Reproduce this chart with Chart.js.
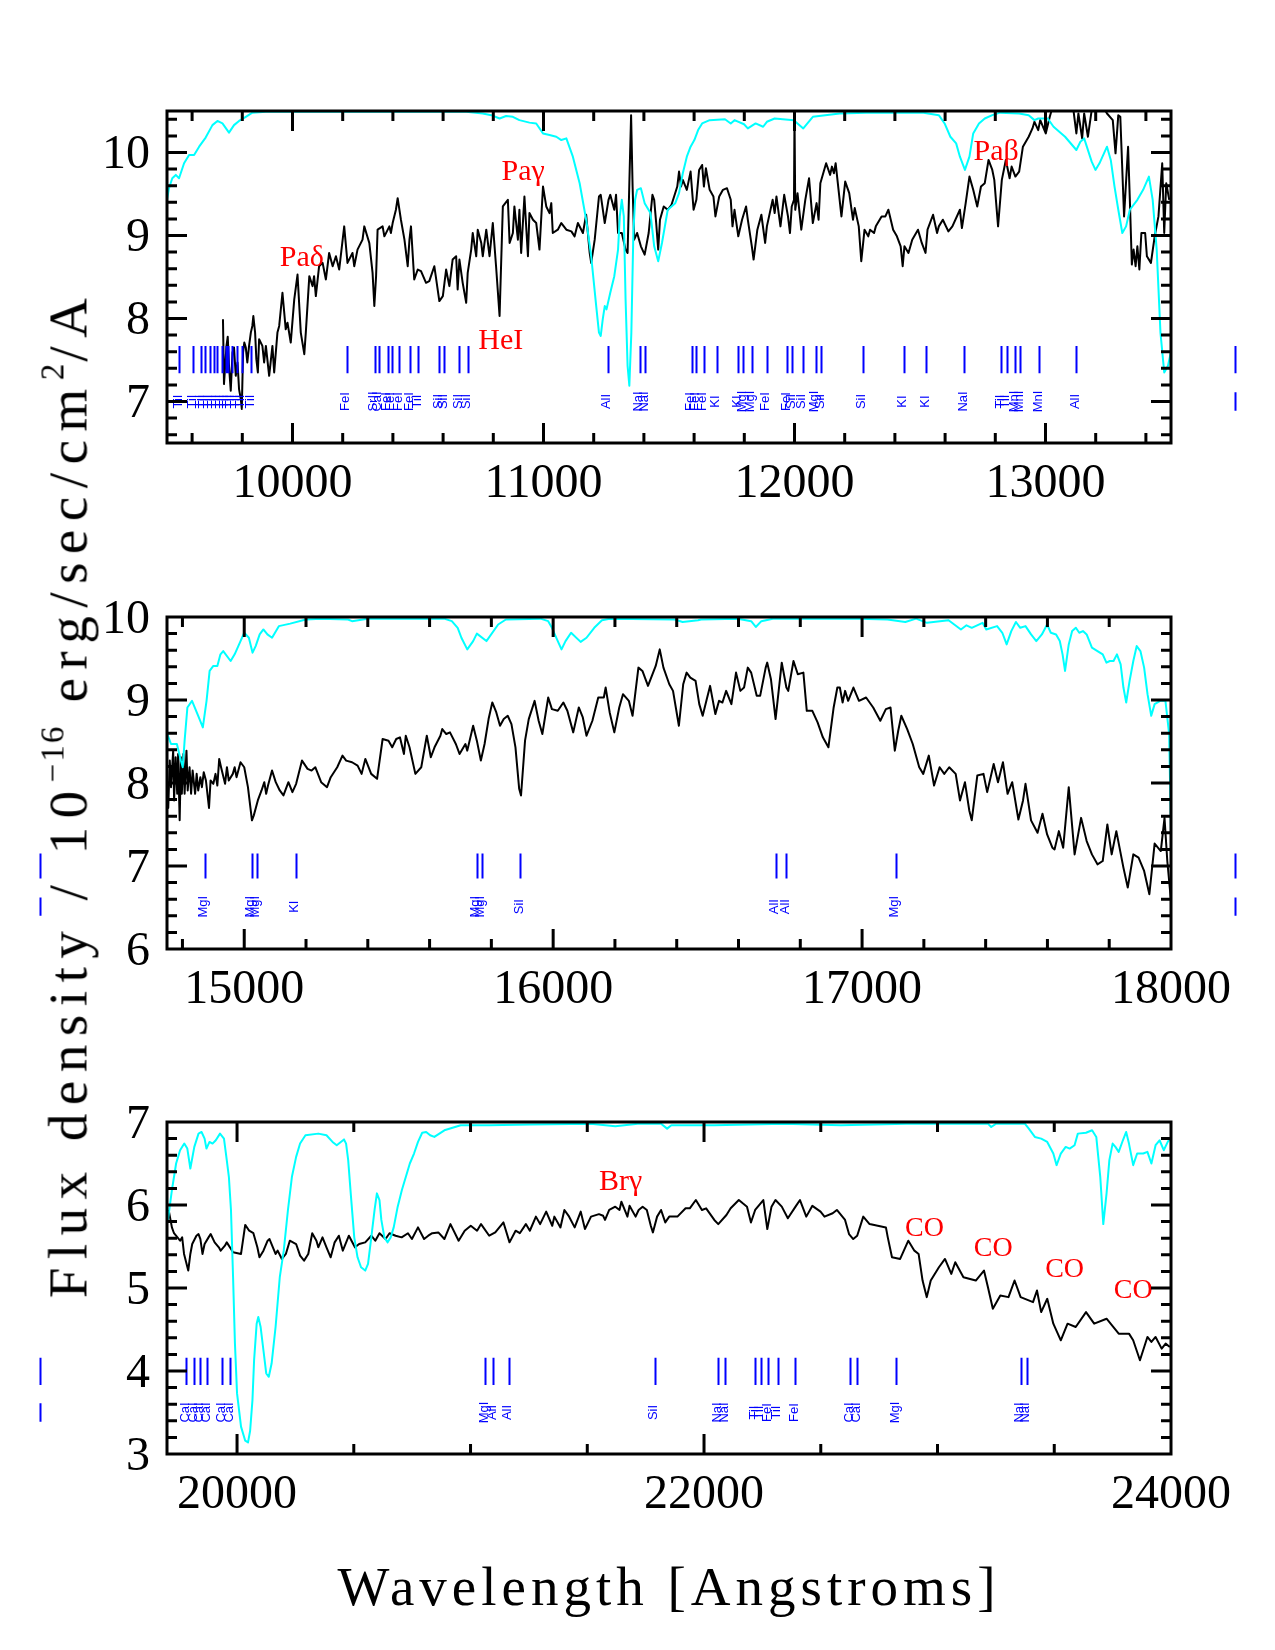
<!DOCTYPE html>
<html>
<head>
<meta charset="utf-8">
<script src="https://cdn.jsdelivr.net/npm/chart.js@4.4.1/dist/chart.umd.min.js"></script>
<style>
  html,body{margin:0;padding:0;background:#fff;}
  #wrap{position:relative;width:1275px;height:1650px;overflow:hidden;}
  canvas{position:absolute;left:0;}
  .title{position:absolute;font-family:"Liberation Serif",serif;font-size:55px;line-height:1;white-space:nowrap;color:#000;}
  .title sup{font-size:0.6em;vertical-align:0.7em;letter-spacing:2px;}
</style>
</head>
<body>
<div id="wrap">
  <canvas id="c1" width="1275" height="480" style="top:40px"></canvas>
  <canvas id="c2" width="1275" height="480" style="top:546px"></canvas>
  <canvas id="c3" width="1275" height="480" style="top:1051px"></canvas>
  <div class="title" id="ytitle" style="left:66px;top:794px;letter-spacing:8.5px;transform:translate(-50%,-50%) rotate(-90deg);">Flux density / 10<sup>−16</sup> erg/sec/cm<sup>2</sup>/A</div>
  <div class="title" id="xtitle" style="left:669px;top:1586px;letter-spacing:5px;transform:translate(-50%,-50%);">Wavelength [Angstroms]</div>
</div>
<script>
// ---------------- Panel 1 (9500-13500 A) ----------------
const P1_X_TICKS = [10000, 11000, 12000, 13000];
const P1_Y_TICKS = [7, 8, 9, 10];
const P1_BLACK = [[9723,7.99],[9727,7.21],[9737,7.67],[9742,7.78],[9747,7.43],[9754,7.13],[9761,7.59],[9767,7.65],[9774,7.31],[9781,7.47],[9787,7.15],[9794,7.03],[9798,6.91],[9803,7.59],[9808,7.71],[9814,7.65],[9820,7.47],[9827,7.67],[9834,7.83],[9840,7.91],[9844,8.03],[9851,7.83],[9856,7.51],[9862,7.35],[9867,7.75],[9880,7.67],[9887,7.47],[9894,7.67],[9907,7.31],[9920,7.67],[9927,7.35],[9940,7.83],[9947,7.91],[9960,8.31],[9973,7.87],[9980,7.95],[9993,7.71],[10007,8.23],[10020,8.53],[10033,7.83],[10047,7.57],[10053,7.83],[10067,8.51],[10080,8.39],[10086,8.51],[10093,8.27],[10106,8.63],[10120,8.67],[10133,8.47],[10146,8.79],[10160,8.63],[10173,8.75],[10186,8.59],[10206,9.11],[10219,8.67],[10239,8.79],[10246,8.63],[10259,8.83],[10279,8.95],[10286,9.11],[10306,8.91],[10319,8.55],[10326,8.15],[10333,8.51],[10339,9.07],[10359,9.11],[10366,8.99],[10386,9.11],[10392,9.03],[10399,9.15],[10412,9.31],[10419,9.45],[10432,9.19],[10446,8.95],[10459,8.63],[10466,8.95],[10472,9.11],[10485,8.47],[10499,8.59],[10512,8.57],[10532,8.43],[10545,8.45],[10565,8.63],[10585,8.21],[10599,8.27],[10612,8.59],[10625,8.39],[10638,8.71],[10652,8.75],[10658,8.35],[10665,8.71],[10678,8.43],[10692,8.19],[10698,8.55],[10712,8.83],[10718,9.03],[10732,8.75],[10738,9.07],[10752,8.91],[10758,8.75],[10772,9.07],[10785,8.75],[10798,9.15],[10811,8.63],[10825,8.03],[10838,9.35],[10858,9.43],[10865,8.91],[10878,9.03],[10884,9.35],[10898,8.95],[10904,9.31],[10911,8.79],[10924,9.47],[10938,8.75],[10944,9.27],[10958,9.19],[10971,9.15],[10984,8.83],[10998,9.59],[11011,9.35],[11024,9.27],[11031,9.39],[11037,9.03],[11057,9.07],[11071,9.15],[11091,9.07],[11111,9.05],[11124,8.99],[11137,9.15],[11157,9.03],[11170,9.25],[11184,8.79],[11190,8.67],[11204,8.95],[11221,9.47],[11228,9.49],[11244,9.15],[11259,9.43],[11266,9.49],[11282,9.31],[11289,9.49],[11297,9.03],[11312,9.03],[11327,8.83],[11335,8.79],[11342,9.63],[11349,10.45],[11355,9.59],[11361,8.95],[11373,9.03],[11388,8.87],[11403,8.77],[11419,9.03],[11434,9.49],[11441,9.43],[11449,9.15],[11457,8.83],[11464,9.19],[11479,9.35],[11495,9.31],[11510,9.37],[11533,9.59],[11540,9.77],[11548,9.59],[11555,9.67],[11571,9.55],[11586,9.77],[11598,9.31],[11609,9.43],[11620,9.79],[11632,9.85],[11639,9.59],[11647,9.81],[11662,9.55],[11677,9.47],[11685,9.23],[11700,9.47],[11715,9.55],[11731,9.57],[11746,9.43],[11753,9.11],[11761,9.31],[11776,8.99],[11791,9.19],[11807,9.35],[11814,9.19],[11830,8.87],[11837,8.71],[11852,9.07],[11868,9.25],[11883,8.91],[11890,9.11],[11913,9.43],[11921,9.27],[11928,9.47],[11944,9.11],[11959,9.49],[11974,9.23],[11982,9.03],[11989,9.35],[11998,9.43],[12000,10.47],[12003,9.31],[12012,9.51],[12027,9.07],[12043,9.43],[12058,9.69],[12073,9.15],[12088,9.39],[12096,9.19],[12103,9.63],[12126,9.87],[12142,9.73],[12149,9.83],[12157,9.75],[12164,9.87],[12187,9.23],[12202,9.65],[12218,9.51],[12233,9.19],[12240,9.33],[12256,9.11],[12266,8.69],[12279,9.07],[12294,8.99],[12301,9.07],[12317,9.03],[12324,9.11],[12347,9.23],[12362,9.23],[12374,9.31],[12393,9.07],[12408,8.99],[12423,8.87],[12431,8.63],[12438,8.87],[12454,8.79],[12469,8.95],[12492,9.07],[12507,8.91],[12522,8.79],[12530,9.07],[12552,9.25],[12568,9.03],[12575,9.11],[12591,9.19],[12613,9.05],[12629,9.11],[12659,9.31],[12667,9.09],[12682,9.39],[12697,9.71],[12712,9.55],[12728,9.35],[12743,9.59],[12758,9.63],[12773,9.91],[12788,9.79],[12796,9.67],[12811,9.11],[12826,9.67],[12842,9.91],[12857,9.69],[12865,9.83],[12880,9.71],[12895,9.77],[12910,10.07],[12933,10.19],[12948,10.29],[12956,10.37],[12971,10.27],[12979,10.39],[13001,10.23],[13017,10.43],[13032,10.59],[13062,10.71],[13085,10.55],[13108,10.59],[13123,10.23],[13131,10.47],[13146,10.17],[13154,10.47],[13169,10.19],[13184,10.51],[13215,10.63],[13245,10.47],[13268,10.39],[13279,9.99],[13290,10.45],[13298,10.43],[13313,9.23],[13329,10.07],[13336,9.43],[13344,8.65],[13351,8.83],[13359,8.63],[13366,8.87],[13374,8.59],[13382,9.03],[13397,9.03],[13404,8.75],[13420,8.67],[13435,8.99],[13450,9.23],[13465,9.87],[13473,9.03],[13481,9.63],[13493,9.43]];
const P1_CYAN = [[9500,9.43],[9508,9.57],[9521,9.69],[9535,9.73],[9548,9.69],[9568,9.87],[9588,9.97],[9608,9.97],[9628,10.07],[9654,10.18],[9681,10.33],[9701,10.38],[9721,10.35],[9747,10.24],[9767,10.33],[9787,10.38],[9814,10.43],[9840,10.48],[9894,10.49],[10692,10.49],[10758,10.47],[10792,10.45],[10825,10.41],[10851,10.44],[10878,10.43],[10904,10.39],[10944,10.36],[10971,10.35],[10998,10.23],[11024,10.21],[11051,10.19],[11071,10.15],[11091,10.17],[11117,9.95],[11144,9.63],[11170,9.19],[11190,8.75],[11210,8.15],[11221,7.83],[11228,7.79],[11236,7.99],[11244,8.15],[11251,8.11],[11266,8.31],[11282,8.51],[11297,8.83],[11304,9.23],[11312,9.43],[11320,9.23],[11327,8.23],[11335,7.43],[11342,7.19],[11350,7.83],[11358,9.03],[11365,9.43],[11373,9.55],[11388,9.57],[11403,9.39],[11426,9.27],[11441,8.87],[11457,8.69],[11472,8.91],[11495,9.31],[11525,9.39],[11540,9.51],[11555,9.75],[11571,9.95],[11586,10.07],[11601,10.15],[11616,10.27],[11632,10.35],[11662,10.39],[11723,10.40],[11746,10.35],[11761,10.39],[11799,10.34],[11814,10.29],[11845,10.35],[11875,10.31],[11890,10.37],[11921,10.41],[11997,10.39],[12035,10.29],[12073,10.43],[12180,10.47],[12286,10.48],[12514,10.48],[12575,10.45],[12598,10.35],[12621,10.19],[12644,10.11],[12659,9.95],[12679,9.79],[12697,9.95],[12712,10.23],[12735,10.35],[12758,10.41],[12788,10.45],[12819,10.48],[12895,10.47],[12933,10.45],[12956,10.39],[12971,10.41],[13009,10.41],[13032,10.31],[13078,10.19],[13123,10.03],[13139,10.13],[13154,10.17],[13184,9.89],[13199,9.79],[13215,9.87],[13245,10.07],[13260,9.91],[13275,9.59],[13290,9.31],[13306,9.03],[13321,9.11],[13336,9.31],[13366,9.43],[13389,9.55],[13412,9.71],[13427,9.43],[13443,8.83],[13458,7.83],[13473,7.35],[13488,7.43],[13500,7.60]];
const P1_LINES = [[9548,'TiI'],[9604,'TiI'],[9637,'TiI'],[9650,'TiI'],[9671,'TiI'],[9687,'TiI'],[9701,'TiI'],[9718,'TiI'],[9734,'TiI'],[9745,'TiI'],[9757,'TiI'],[9778,'TiI'],[9798,'TiI'],[9835,'TiI'],[10217,'FeI'],[10327,'SrII'],[10343,'CaI'],[10379,'FeI'],[10396,'FeI'],[10426,'FeI'],[10469,'FeI'],[10501,'TiI'],[10585,'SiI'],[10605,'SiI'],[10665,'SiI'],[10698,'SiI'],[11256,'AlI'],[11384,'NaI'],[11406,'NaI'],[11591,'FeI'],[11609,'FeI'],[11639,'FeI'],[11690,'KI'],[11776,'KI'],[11796,'MgI'],[11830,'MgI'],[11890,'FeI'],[11971,'FeI'],[11992,'SiI'],[12032,'SiI'],[12084,'MgI'],[12107,'SiI'],[12271,'SiI'],[12435,'KI'],[12525,'KI'],[12677,'NaI'],[12823,'TiI'],[12846,'TiI'],[12880,'MnI'],[12899,'MnI'],[12976,'MnI'],[13123,'AlI']];
const P1_OUT = [13756];
const P1_IDS = [[9949,8.63,'Paδ'],[10740,7.63,'HeI'],[10833,9.67,'Paγ'],[12713,9.91,'Paβ']];

// ---------------- Panel 2 (14750-18000 A) ----------------
const P2_X_TICKS = [15000, 16000, 17000, 18000];
const P2_Y_TICKS = [6, 7, 8, 9, 10];
const P2_BLACK = [[14745,7.79],[14754,7.70],[14759,8.27],[14763,7.95],[14770,8.39],[14773,7.79],[14778,8.31],[14783,7.87],[14786,8.35],[14791,7.55],[14795,8.31],[14798,7.87],[14803,8.35],[14807,7.87],[14813,8.39],[14817,7.91],[14823,8.19],[14828,7.87],[14833,8.15],[14841,7.87],[14846,8.11],[14851,7.91],[14858,8.07],[14863,7.95],[14869,8.13],[14876,8.03],[14886,7.70],[14891,8.03],[14900,7.99],[14907,8.11],[14913,7.97],[14919,8.29],[14925,8.19],[14938,7.99],[14944,8.19],[14950,8.03],[14963,8.11],[14969,8.19],[14975,8.07],[14988,8.25],[15000,8.19],[15012,7.95],[15025,7.55],[15031,7.61],[15044,7.79],[15056,7.91],[15065,8.01],[15071,7.87],[15077,7.97],[15090,8.15],[15102,8.01],[15115,7.91],[15127,7.85],[15143,8.01],[15156,7.89],[15168,7.99],[15187,8.27],[15205,8.17],[15218,8.15],[15230,8.19],[15249,8.01],[15268,7.95],[15280,8.07],[15301,8.19],[15318,8.33],[15330,8.27],[15349,8.25],[15367,8.21],[15380,8.11],[15392,8.29],[15411,8.11],[15430,8.05],[15448,8.53],[15467,8.51],[15479,8.43],[15492,8.53],[15504,8.55],[15517,8.35],[15523,8.57],[15535,8.43],[15554,8.11],[15573,8.19],[15591,8.57],[15604,8.31],[15616,8.43],[15635,8.57],[15641,8.65],[15654,8.59],[15666,8.61],[15685,8.47],[15697,8.35],[15716,8.47],[15722,8.39],[15741,8.69],[15753,8.51],[15766,8.27],[15778,8.47],[15791,8.77],[15803,8.97],[15816,8.85],[15828,8.69],[15840,8.77],[15853,8.81],[15865,8.71],[15878,8.43],[15890,7.93],[15896,7.85],[15909,8.51],[15921,8.77],[15940,8.99],[15953,8.75],[15965,8.59],[15984,9.03],[15996,8.89],[16015,8.87],[16033,8.97],[16046,8.87],[16065,8.61],[16083,8.91],[16096,8.79],[16108,8.57],[16127,8.75],[16146,9.03],[16164,9.03],[16170,9.15],[16183,8.85],[16198,8.61],[16214,8.91],[16226,9.07],[16245,8.99],[16257,8.81],[16276,9.39],[16289,9.35],[16307,9.17],[16332,9.41],[16345,9.61],[16357,9.39],[16376,9.19],[16388,9.11],[16407,8.69],[16421,9.19],[16432,9.33],[16444,9.27],[16461,9.23],[16473,8.95],[16484,8.81],[16496,8.99],[16508,9.17],[16525,8.83],[16537,8.99],[16548,8.97],[16560,9.11],[16577,8.95],[16592,9.33],[16606,9.11],[16618,9.15],[16630,9.39],[16641,9.33],[16659,9.05],[16670,9.05],[16688,9.39],[16693,9.45],[16705,9.25],[16720,8.77],[16740,9.45],[16755,9.15],[16761,9.11],[16778,9.47],[16792,9.31],[16810,9.33],[16821,8.87],[16839,8.87],[16856,8.73],[16873,8.55],[16891,8.43],[16908,8.91],[16920,9.15],[16928,9.15],[16937,8.97],[16945,9.11],[16955,8.99],[16972,9.15],[16990,8.99],[17013,9.03],[17036,8.91],[17059,8.75],[17077,8.89],[17092,8.91],[17106,8.39],[17117,8.63],[17127,8.81],[17146,8.65],[17164,8.47],[17185,8.19],[17198,8.11],[17216,8.33],[17233,7.97],[17251,8.19],[17266,8.11],[17282,8.19],[17303,8.11],[17317,7.79],[17333,8.01],[17347,7.67],[17355,7.55],[17373,8.09],[17393,8.11],[17405,7.89],[17426,8.23],[17440,8.01],[17456,8.25],[17471,7.87],[17486,8.01],[17506,7.56],[17521,7.79],[17529,7.99],[17547,7.55],[17568,7.40],[17584,7.63],[17599,7.38],[17616,7.22],[17623,7.20],[17637,7.42],[17651,7.22],[17669,7.95],[17688,7.14],[17709,7.58],[17727,7.30],[17744,7.14],[17762,7.02],[17779,7.06],[17794,7.50],[17808,7.14],[17823,7.42],[17846,6.98],[17860,6.74],[17878,7.14],[17895,7.10],[17913,6.94],[17930,6.66],[17947,7.27],[17967,7.18],[17979,7.58],[17988,7.06],[18000,6.58]];
const P2_CYAN = [[14745,8.83],[14751,8.59],[14763,8.47],[14782,8.47],[14795,8.27],[14801,8.19],[14807,8.51],[14816,8.91],[14831,8.99],[14853,8.79],[14866,8.67],[14878,8.99],[14888,9.35],[14900,9.41],[14913,9.41],[14923,9.55],[14932,9.59],[14956,9.47],[14969,9.55],[14988,9.71],[15000,9.81],[15015,9.75],[15027,9.57],[15037,9.65],[15050,9.79],[15062,9.85],[15075,9.79],[15090,9.75],[15112,9.89],[15149,9.92],[15199,9.97],[15249,9.98],[15336,9.97],[15349,9.95],[15399,9.98],[15647,9.98],[15672,9.95],[15691,9.87],[15703,9.75],[15722,9.61],[15741,9.71],[15753,9.80],[15784,9.71],[15822,9.91],[15847,9.97],[15959,9.98],[15984,9.95],[15996,9.87],[16015,9.71],[16027,9.61],[16040,9.71],[16058,9.81],[16089,9.70],[16108,9.75],[16133,9.87],[16158,9.96],[16183,9.98],[16394,9.97],[16419,9.94],[16469,9.96],[16479,9.97],[16598,9.98],[16641,9.95],[16656,9.88],[16674,9.95],[16711,9.98],[16990,9.98],[17082,9.97],[17140,9.94],[17175,9.98],[17210,9.93],[17280,9.96],[17320,9.85],[17338,9.90],[17355,9.87],[17390,9.93],[17402,9.85],[17437,9.89],[17454,9.81],[17468,9.67],[17483,9.83],[17498,9.94],[17512,9.87],[17529,9.89],[17547,9.79],[17564,9.71],[17582,9.79],[17599,9.91],[17611,9.81],[17628,9.79],[17640,9.71],[17649,9.55],[17657,9.35],[17669,9.67],[17680,9.83],[17692,9.87],[17703,9.81],[17715,9.83],[17727,9.79],[17744,9.63],[17762,9.59],[17779,9.55],[17791,9.45],[17802,9.47],[17814,9.47],[17825,9.55],[17837,9.43],[17846,9.15],[17855,8.97],[17866,9.23],[17878,9.47],[17889,9.65],[17901,9.59],[17913,9.39],[17924,9.07],[17936,8.81],[17947,8.95],[17965,8.99],[17982,8.99],[17994,8.59],[18000,7.40]];
const P2_LINES = [[14873,'MgI'],[15025,'MgI'],[15041,'MgI'],[15166,'KI'],[15753,'MgI'],[15769,'MgI'],[15894,'SiI'],[16720,'AlI'],[16754,'AlI'],[17109,'MgI']];
const P2_OUT = [14338, 18207];
const P2_IDS = [];

// ---------------- Panel 3 (19700-24000 A) ----------------
const P3_X_TICKS = [20000, 22000, 24000];
const P3_Y_TICKS = [3, 4, 5, 6, 7];
const P3_BLACK = [[19707,5.94],[19721,5.73],[19730,5.66],[19756,5.57],[19765,5.61],[19773,5.41],[19791,5.21],[19800,5.41],[19808,5.53],[19826,5.63],[19835,5.65],[19843,5.59],[19852,5.41],[19861,5.53],[19878,5.61],[19887,5.65],[19904,5.55],[19922,5.49],[19930,5.45],[19948,5.51],[19956,5.55],[19983,5.43],[20017,5.41],[20035,5.76],[20052,5.69],[20070,5.66],[20087,5.49],[20096,5.37],[20113,5.45],[20131,5.57],[20139,5.59],[20165,5.41],[20174,5.45],[20192,5.35],[20209,5.41],[20226,5.57],[20253,5.53],[20270,5.39],[20287,5.33],[20305,5.41],[20322,5.66],[20340,5.57],[20348,5.49],[20366,5.61],[20383,5.49],[20401,5.37],[20418,5.55],[20436,5.63],[20453,5.45],[20479,5.63],[20505,5.49],[20523,5.53],[20549,5.55],[20575,5.63],[20592,5.57],[20610,5.66],[20636,5.59],[20653,5.66],[20679,5.63],[20705,5.61],[20732,5.66],[20749,5.59],[20775,5.73],[20801,5.59],[20819,5.63],[20836,5.66],[20862,5.67],[20888,5.59],[20914,5.77],[20949,5.57],[20975,5.69],[21001,5.75],[21028,5.69],[21045,5.77],[21080,5.63],[21106,5.67],[21141,5.79],[21167,5.55],[21193,5.69],[21211,5.66],[21237,5.77],[21254,5.69],[21280,5.86],[21298,5.77],[21324,5.92],[21350,5.75],[21359,5.86],[21385,5.73],[21402,5.94],[21420,5.87],[21446,5.73],[21472,5.92],[21490,5.71],[21516,5.86],[21550,5.89],[21568,5.87],[21576,5.82],[21594,5.94],[21620,5.98],[21638,5.94],[21646,6.04],[21672,5.86],[21681,5.99],[21707,5.86],[21720,5.94],[21737,5.98],[21755,5.94],[21772,5.75],[21781,5.67],[21799,5.86],[21816,5.94],[21834,5.79],[21851,5.86],[21886,5.86],[21921,5.96],[21939,5.96],[21965,6.06],[21991,5.94],[22009,5.96],[22044,5.82],[22061,5.77],[22096,5.88],[22114,5.96],[22149,6.06],[22166,6.02],[22184,5.98],[22201,5.79],[22219,5.94],[22254,6.06],[22271,5.71],[22289,5.98],[22306,6.06],[22333,5.98],[22359,5.84],[22394,5.99],[22411,6.06],[22438,5.86],[22464,5.99],[22499,5.92],[22516,5.86],[22551,5.90],[22569,5.94],[22604,5.82],[22621,5.65],[22639,5.59],[22656,5.63],[22682,5.86],[22709,5.77],[22744,5.75],[22779,5.73],[22787,5.61],[22805,5.37],[22840,5.35],[22875,5.57],[22901,5.45],[22919,5.41],[22936,5.09],[22954,4.89],[22971,5.09],[23006,5.25],[23032,5.35],[23059,5.17],[23076,5.31],[23111,5.13],[23164,5.09],[23199,5.21],[23216,5.01],[23237,4.75],[23269,4.91],[23304,4.89],[23330,5.09],[23356,4.89],[23409,4.83],[23426,4.97],[23444,4.71],[23470,4.87],[23496,4.57],[23528,4.37],[23557,4.57],[23592,4.53],[23636,4.71],[23671,4.57],[23724,4.63],[23776,4.45],[23820,4.45],[23838,4.37],[23867,4.13],[23899,4.41],[23916,4.35],[23934,4.41],[23960,4.27],[23977,4.33],[23995,4.29]];
const P3_CYAN = [[19704,5.82],[19721,6.18],[19739,6.50],[19756,6.66],[19774,6.74],[19787,6.68],[19800,6.44],[19817,6.70],[19835,6.86],[19848,6.88],[19861,6.80],[19869,6.68],[19882,6.76],[19895,6.74],[19909,6.78],[19927,6.86],[19944,6.80],[19956,6.54],[19965,6.34],[19974,5.94],[19983,5.13],[19991,4.33],[20000,3.73],[20017,3.33],[20035,3.16],[20047,3.14],[20056,3.28],[20066,3.65],[20073,4.13],[20084,4.57],[20091,4.65],[20101,4.53],[20113,4.25],[20125,3.97],[20136,3.93],[20148,4.09],[20165,4.53],[20183,5.13],[20200,5.45],[20218,5.94],[20235,6.34],[20253,6.58],[20270,6.74],[20293,6.84],[20348,6.86],[20383,6.84],[20409,6.76],[20427,6.72],[20458,6.79],[20467,6.74],[20476,6.54],[20488,6.10],[20502,5.61],[20516,5.37],[20531,5.25],[20549,5.21],[20561,5.29],[20575,5.61],[20589,5.94],[20599,6.14],[20610,6.06],[20618,5.82],[20631,5.61],[20645,5.55],[20658,5.61],[20671,5.73],[20688,5.98],[20706,6.18],[20723,6.34],[20740,6.50],[20758,6.62],[20775,6.76],[20793,6.87],[20810,6.88],[20827,6.84],[20845,6.82],[20888,6.90],[20958,6.96],[21080,6.96],[21254,6.97],[21515,6.98],[21620,6.95],[21716,6.98],[21816,6.98],[21842,6.92],[21860,6.96],[22044,6.96],[22341,6.98],[22586,6.96],[22866,6.98],[23216,6.98],[23230,6.94],[23251,6.98],[23374,6.98],[23391,6.92],[23417,6.82],[23444,6.80],[23470,6.76],[23496,6.62],[23510,6.48],[23528,6.62],[23549,6.70],[23566,6.68],[23587,6.72],[23601,6.86],[23636,6.87],[23662,6.90],[23680,6.82],[23697,6.34],[23710,5.77],[23724,6.14],[23736,6.54],[23750,6.74],[23762,6.70],[23776,6.64],[23794,6.78],[23808,6.88],[23820,6.74],[23838,6.48],[23855,6.62],[23881,6.62],[23899,6.64],[23916,6.50],[23934,6.72],[23951,6.78],[23969,6.66],[23986,6.76],[23995,6.80]];
const P3_LINES = [[19782,'CaI'],[19817,'CaI'],[19843,'CaI'],[19873,'CaI'],[19936,'CaI'],[19970,'CaI'],[21063,'MgI'],[21097,'AlI'],[21164,'AlI'],[21790,'SiI'],[22061,'NaI'],[22091,'NaI'],[22219,'TiI'],[22242,'TiI'],[22275,'FeI'],[22315,'TiI'],[22390,'FeI'],[22627,'CaI'],[22656,'CaI'],[22823,'MgI'],[23356,'NaI'],[23383,'NaI']];
const P3_OUT = [19155];
const P3_IDS = [[21550,6.18,'Brγ'],[22861,5.63,'CO'],[23155,5.39,'CO'],[23461,5.13,'CO'],[23755,4.88,'CO']];

const PANELS = [
  {id:'c1', xmin:9500, xmax:13500, ymin:6.5, ymax:10.5, xmajor:1000, xminor:200, xt:P1_X_TICKS, yt:P1_Y_TICKS,
   black:P1_BLACK, cyan:P1_CYAN, lines:P1_LINES, out:P1_OUT, ids:P1_IDS, tickLo:7.34, tickHi:7.67, labY:7.0},
  {id:'c2', xmin:14750, xmax:18000, ymin:6, ymax:10, xmajor:1000, xminor:200, xt:P2_X_TICKS, yt:P2_Y_TICKS,
   black:P2_BLACK, cyan:P2_CYAN, lines:P2_LINES, out:P2_OUT, ids:P2_IDS, tickLo:6.85, tickHi:7.15, labY:6.51},
  {id:'c3', xmin:19700, xmax:24000, ymin:3, ymax:7, xmajor:2000, xminor:500, xt:P3_X_TICKS, yt:P3_Y_TICKS,
   black:P3_BLACK, cyan:P3_CYAN, lines:P3_LINES, out:P3_OUT, ids:P3_IDS, tickLo:3.83, tickHi:4.16, labY:3.50}
];

function framePlugin(c) {
  return {
    id: 'frame_' + c.id,
    afterDatasetsDraw(chart) {
      const ctx = chart.ctx, a = chart.chartArea, x = chart.scales.x, y = chart.scales.y;
      ctx.save();
      // identified line markers (blue)
      ctx.strokeStyle = '#0000ff';
      ctx.lineWidth = 2;
      ctx.beginPath();
      const yLo = y.getPixelForValue(c.tickLo), yHi = y.getPixelForValue(c.tickHi);
      for (const [wl] of c.lines) {
        const px = Math.round(x.getPixelForValue(wl)) + 0.5;
        ctx.moveTo(px, yLo); ctx.lineTo(px, yHi);
      }
      for (const wl of c.out) {
        const px = Math.round(x.getPixelForValue(wl)) + 0.5;
        ctx.moveTo(px, yLo); ctx.lineTo(px, yHi);
        ctx.moveTo(px, y.getPixelForValue(c.labY - 0.11));
        ctx.lineTo(px, y.getPixelForValue(c.labY + 0.11));
      }
      ctx.stroke();
      ctx.fillStyle = '#0000ff';
      ctx.font = '13px "Liberation Sans", Arial, sans-serif';
      ctx.textAlign = 'center';
      ctx.textBaseline = 'alphabetic';
      const ly = y.getPixelForValue(c.labY);
      for (const [wl, name] of c.lines) {
        const px = x.getPixelForValue(wl);
        ctx.save();
        ctx.translate(px + 2.5, ly);
        ctx.rotate(-Math.PI / 2);
        ctx.fillText(name, 0, 0);
        ctx.restore();
      }
      // red feature labels
      ctx.fillStyle = '#ff0000';
      ctx.textAlign = 'left';
      for (const [wl, v, t] of c.ids) {
        ctx.font = (t === 'CO' ? '28px' : '30px') + ' "Liberation Serif", serif';
        ctx.fillText(t, x.getPixelForValue(wl), y.getPixelForValue(v));
      }
      // frame and inward ticks on all sides
      ctx.strokeStyle = '#000';
      ctx.lineWidth = 3;
      ctx.beginPath();
      const xs = Math.ceil(c.xmin / c.xminor), xe = Math.floor(c.xmax / c.xminor);
      for (let i = xs; i <= xe; i++) {
        const v = i * c.xminor;
        if (v <= c.xmin || v >= c.xmax) continue;
        const p = x.getPixelForValue(v);
        const L = (v % c.xmajor === 0) ? 20 : 10;
        ctx.moveTo(p, a.bottom); ctx.lineTo(p, a.bottom - L);
        ctx.moveTo(p, a.top); ctx.lineTo(p, a.top + L);
      }
      const ys = Math.ceil(c.ymin * 5 - 1e-6), ye = Math.floor(c.ymax * 5 + 1e-6);
      for (let i = ys; i <= ye; i++) {
        const v = i / 5;
        if (v <= c.ymin + 1e-9 || v >= c.ymax - 1e-9) continue;
        const p = y.getPixelForValue(v);
        const L = (i % 5 === 0) ? 20 : 10;
        ctx.moveTo(a.left, p); ctx.lineTo(a.left + L, p);
        ctx.moveTo(a.right, p); ctx.lineTo(a.right - L, p);
      }
      ctx.stroke();
      ctx.strokeRect(a.left, a.top, a.right - a.left, a.bottom - a.top);
      ctx.restore();
    }
  };
}

const tickFont = {family: '"Liberation Serif", serif', size: 48, weight: 'normal'};

for (const c of PANELS) {
  new Chart(document.getElementById(c.id).getContext('2d'), {
    type: 'line',
    data: {
      datasets: [
        {data: c.cyan.map(([x, y]) => ({x, y})), borderColor: '#00ffff', borderWidth: 2,
         pointRadius: 0, tension: 0, fill: false, borderJoinStyle: 'round'},
        {data: c.black.map(([x, y]) => ({x, y})), borderColor: '#000000', borderWidth: 2,
         pointRadius: 0, tension: 0, fill: false, borderJoinStyle: 'round'}
      ]
    },
    options: {
      responsive: false,
      maintainAspectRatio: false,
      devicePixelRatio: 1,
      animation: false,
      events: [],
      layout: {padding: {left: 0, right: 104, top: 71, bottom: 0}},
      plugins: {legend: {display: false}, tooltip: {enabled: false}, title: {display: false}},
      scales: {
        x: {
          type: 'linear', min: c.xmin, max: c.xmax,
          afterFit: s => { s.height = 77; },
          afterBuildTicks: s => { s.ticks = c.xt.map(v => ({value: v})); },
          grid: {display: false, drawTicks: false},
          border: {display: false},
          ticks: {color: '#000', font: tickFont, padding: 13, maxRotation: 0, minRotation: 0,
                  autoSkip: false, callback: v => String(v)}
        },
        y: {
          type: 'linear', min: c.ymin, max: c.ymax,
          afterFit: s => { s.width = 167; },
          afterBuildTicks: s => { s.ticks = c.yt.map(v => ({value: v})); },
          grid: {display: false, drawTicks: false},
          border: {display: false},
          ticks: {color: '#000', font: tickFont, padding: 17, labelOffset: 3, autoSkip: false, callback: v => String(v)}
        }
      }
    },
    plugins: [framePlugin(c)]
  });
}
</script>
</body>
</html>
